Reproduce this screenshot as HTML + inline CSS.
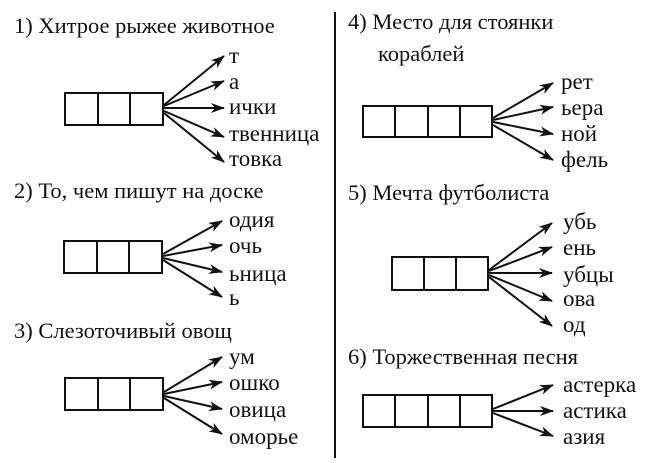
<!DOCTYPE html>
<html><head><meta charset="utf-8"><style>
html,body{margin:0;padding:0;background:#fff;}
svg{display:block}
text{font-family:"Liberation Serif",serif;fill:#111;}
.t{font-size:22.5px}
.l{font-size:23px}
</style></head><body>
<svg width="650" height="463" viewBox="0 0 650 463" xmlns="http://www.w3.org/2000/svg">
<defs>
<marker id="a" viewBox="0 0 14 10" refX="13" refY="5" markerWidth="14" markerHeight="10" markerUnits="userSpaceOnUse" orient="auto">
<path d="M0,0 L14,5 L0,10 L4,5 Z" fill="#111"/>
</marker>
</defs>
<g stroke="#111" stroke-width="2" fill="none">
<line x1="335" y1="12" x2="335" y2="458"/>
<rect x="65" y="93" width="98" height="32"/><line x1="98" y1="93" x2="98" y2="125"/><line x1="130" y1="93" x2="130" y2="125"/>
<rect x="64" y="241" width="98" height="32"/><line x1="97" y1="241" x2="97" y2="273"/><line x1="129" y1="241" x2="129" y2="273"/>
<rect x="65" y="378" width="98" height="32"/><line x1="98" y1="378" x2="98" y2="410"/><line x1="130" y1="378" x2="130" y2="410"/>
<rect x="363" y="106" width="129" height="31"/><line x1="395" y1="106" x2="395" y2="137"/><line x1="428" y1="106" x2="428" y2="137"/><line x1="460" y1="106" x2="460" y2="137"/>
<rect x="392" y="257" width="96" height="33"/><line x1="424" y1="257" x2="424" y2="290"/><line x1="456" y1="257" x2="456" y2="290"/>
<rect x="363" y="395" width="129" height="32"/><line x1="395" y1="395" x2="395" y2="427"/><line x1="428" y1="395" x2="428" y2="427"/><line x1="460" y1="395" x2="460" y2="427"/>
</g>
<g stroke="#111" stroke-width="2" marker-end="url(#a)">
<line x1="164" y1="105" x2="224" y2="56"/>
<line x1="164" y1="106" x2="224" y2="81"/>
<line x1="164" y1="108" x2="224" y2="108"/>
<line x1="164" y1="111" x2="224" y2="137"/>
<line x1="164" y1="113" x2="224" y2="162"/>

<line x1="163" y1="254" x2="222" y2="221"/>
<line x1="163" y1="256" x2="222" y2="245"/>
<line x1="163" y1="258" x2="222" y2="272"/>
<line x1="163" y1="260" x2="222" y2="297"/>

<line x1="164" y1="392" x2="222" y2="357"/>
<line x1="164" y1="394" x2="222" y2="382"/>
<line x1="164" y1="396" x2="222" y2="409"/>
<line x1="164" y1="398" x2="222" y2="434"/>

<line x1="493" y1="118" x2="553" y2="83"/>
<line x1="493" y1="120" x2="553" y2="107"/>
<line x1="493" y1="122" x2="553" y2="134"/>
<line x1="493" y1="125" x2="553" y2="160"/>

<line x1="489" y1="270" x2="552" y2="223"/>
<line x1="489" y1="271" x2="552" y2="247"/>
<line x1="489" y1="273" x2="552" y2="273"/>
<line x1="489" y1="275" x2="552" y2="301"/>
<line x1="489" y1="277" x2="552" y2="326"/>

<line x1="493" y1="409" x2="553" y2="385"/>
<line x1="493" y1="411" x2="553" y2="411"/>
<line x1="493" y1="413" x2="553" y2="436"/>
</g>
<text class="t" x="14" y="33">1) Хитрое рыжее животное</text>
<text class="l" x="229" y="63">т</text>
<text class="l" x="229" y="89">а</text>
<text class="l" x="229" y="114">ички</text>
<text class="l" x="229" y="141">твенница</text>
<text class="l" x="229" y="166">товка</text>

<text class="t" x="14" y="198">2) То, чем пишут на доске</text>
<text class="l" x="229" y="227">одия</text>
<text class="l" x="229" y="253">очь</text>
<text class="l" x="229" y="281">ьница</text>
<text class="l" x="229" y="305">ь</text>

<text class="t" x="14" y="338">3) Слезоточивый овощ</text>
<text class="l" x="229" y="364">ум</text>
<text class="l" x="229" y="390">ошко</text>
<text class="l" x="229" y="417">овица</text>
<text class="l" x="229" y="444">оморье</text>

<text class="t" x="348" y="29">4) Место для стоянки</text>
<text class="t" x="378" y="61">кораблей</text>
<text class="l" x="561" y="89">рет</text>
<text class="l" x="561" y="115">ьера</text>
<text class="l" x="561" y="141">ной</text>
<text class="l" x="561" y="167">фель</text>

<text class="t" x="348" y="200">5) Мечта футболиста</text>
<text class="l" x="563" y="229">убь</text>
<text class="l" x="563" y="255">ень</text>
<text class="l" x="563" y="282">убцы</text>
<text class="l" x="563" y="306">ова</text>
<text class="l" x="563" y="332">од</text>

<text class="t" x="348" y="364">6) Торжественная песня</text>
<text class="l" x="563" y="392">астерка</text>
<text class="l" x="563" y="418">астика</text>
<text class="l" x="563" y="444">азия</text>
</svg>
</body></html>
